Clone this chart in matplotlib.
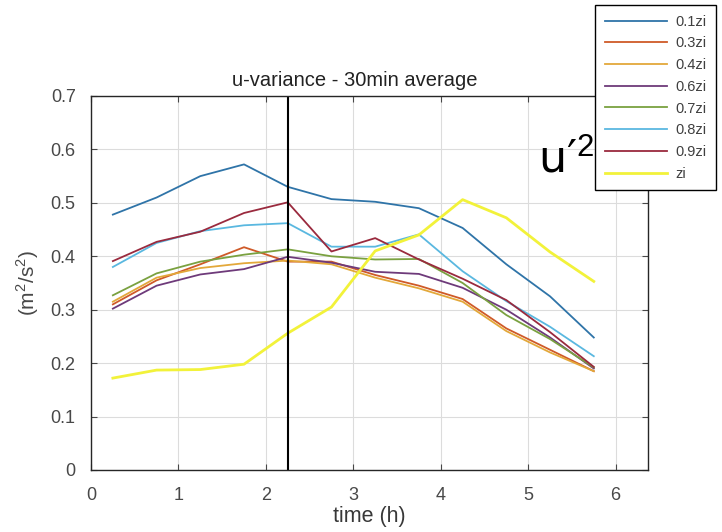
import matplotlib
matplotlib.use("Agg")
import matplotlib.pyplot as plt

plt.rcParams['font.family'] = ['Liberation Sans', 'DejaVu Sans']
plt.rcParams['mathtext.fontset'] = 'custom'
plt.rcParams['mathtext.rm'] = 'Liberation Sans'

time_h = [0.25, 0.75, 1.25, 1.75, 2.25, 2.75, 3.25, 3.75, 4.25, 4.75, 5.25, 5.75]
labels = ['0.1zi', '0.3zi', '0.4zi', '0.6zi', '0.7zi', '0.8zi', '0.9zi', 'zi']

u_01 = [0.478, 0.510, 0.550, 0.572, 0.530, 0.507, 0.502, 0.490, 0.453, 0.385, 0.325, 0.248]
u_03 = [0.310, 0.355, 0.385, 0.417, 0.390, 0.390, 0.365, 0.345, 0.320, 0.265, 0.225, 0.185]
u_04 = [0.315, 0.360, 0.378, 0.387, 0.392, 0.385, 0.360, 0.340, 0.315, 0.260, 0.220, 0.185]
u_06 = [0.302, 0.345, 0.366, 0.376, 0.399, 0.388, 0.371, 0.367, 0.341, 0.300, 0.248, 0.190]
u_07 = [0.327, 0.368, 0.390, 0.403, 0.413, 0.400, 0.394, 0.395, 0.350, 0.290, 0.245, 0.192]
u_08 = [0.380, 0.425, 0.447, 0.458, 0.462, 0.418, 0.418, 0.441, 0.372, 0.316, 0.268, 0.213]
u_09 = [0.391, 0.427, 0.446, 0.481, 0.501, 0.409, 0.434, 0.394, 0.358, 0.318, 0.258, 0.193]
u_zi = [0.172, 0.187, 0.188, 0.198, 0.256, 0.305, 0.410, 0.440, 0.506, 0.472, 0.408, 0.353]

series = [u_01, u_03, u_04, u_06, u_07, u_08, u_09, u_zi]
colors = ['#2f74a8', '#cf5a28', '#e3a83a', '#6e3a7a', '#7aa140', '#5ab8e0', '#9a2a3e', '#f2f23a']
widths = [1.3, 1.3, 1.3, 1.3, 1.3, 1.3, 1.3, 2.0]

vline_x = 2.25

fig = plt.figure(figsize=(7.22, 5.32), dpi=100)
ax = fig.add_axes([91/722, 1-470/532, (648-91)/722, (470-96)/532])

handles = []
for ys, c, lw, lab in zip(series, colors, widths, labels):
    h, = ax.plot(time_h, ys, color=c, lw=lw, label=lab)
    handles.append(h)

ax.axvline(vline_x, color='black', lw=1.5)

ax.set_xlim(0, 6.37)
ax.set_ylim(0, 0.7)
ax.set_xticks([0, 1, 2, 3, 4, 5, 6])
ax.set_yticks([0, 0.1, 0.2, 0.3, 0.4, 0.5, 0.6, 0.7])
ax.set_yticklabels(['0', '0.1', '0.2', '0.3', '0.4', '0.5', '0.6', '0.7'])
ax.grid(True, color='#dcdcdc', lw=0.8)
ax.set_axisbelow(True)
ax.tick_params(direction='in', top=True, right=True, labelsize=13, colors='#484848', length=4)
ax.tick_params(axis='x', pad=12)
ax.tick_params(axis='y', pad=11)
for s in ax.spines.values():
    s.set_color('#262626')
    s.set_linewidth(1.0)

fig.text(355/722, 1-86/532, 'u-variance - 30min average', fontsize=14.5, color='#222222',
         ha='center', va='baseline')
ax.set_xlabel('time (h)', fontsize=15.5, color='#383838', labelpad=2)
ax.set_ylabel(r'(m$^2$/s$^2$)', fontsize=15, color='#484848', labelpad=7)

fig.text(538/722, 1-173/532, "u\u2032$^{2}$", fontsize=32, color='black', family='DejaVu Sans')

leg = fig.legend(handles=handles, labels=labels, loc='upper left',
                 bbox_to_anchor=(595/722, 1-5/532), fontsize=10.5,
                 frameon=True, fancybox=False, edgecolor='black',
                 framealpha=1, handlelength=4.3, labelspacing=0.53,
                 borderpad=0.66, handletextpad=0.55, borderaxespad=0)
leg.get_frame().set_linewidth(1.0)
for t in leg.get_texts():
    t.set_color('#404040')

fig.savefig('out.png', dpi=100)
